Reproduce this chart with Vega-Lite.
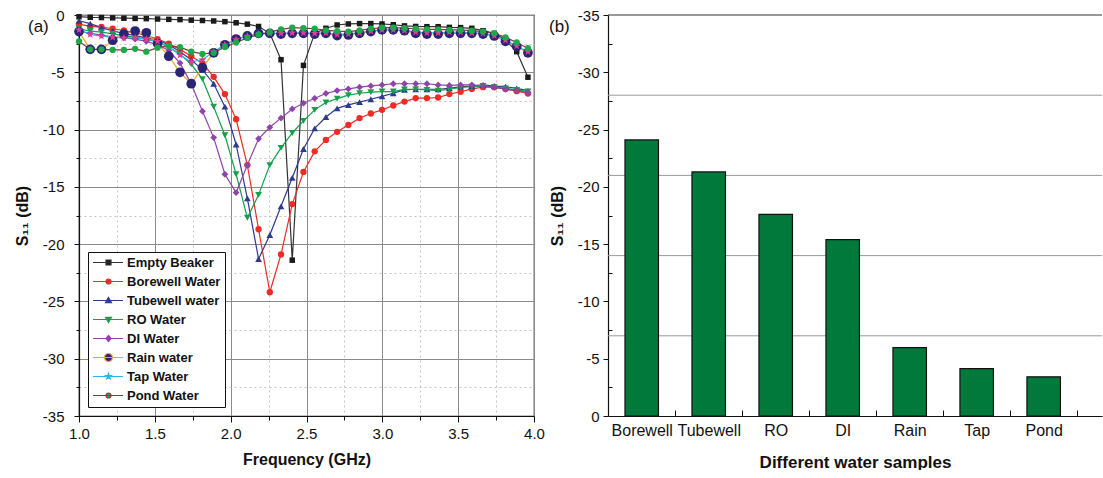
{
  "$schema": "https://vega.github.io/schema/vega-lite/v6.json",
  "background": "white",
  "padding": {"left": 13, "top": 7, "right": 0, "bottom": 0},
  "spacing": 3,
  "config": {
    "font": "Liberation Sans",
    "view": {"stroke": null},
    "axis": {
      "labelFont": "Liberation Sans", "titleFont": "Liberation Sans",
      "labelColor": "#111", "titleColor": "#111", "domainColor": "#111", "tickColor": "#111",
      "labelFontSize": 15, "titleFontSize": 16, "titleFontWeight": "bold", "domainWidth": 1.2, "labelOverlap": false, "labelFlush": false
    },
    "legend": {
      "orient": "bottom-left", "offset": 9, "strokeColor": "#111", "fillColor": "white", "padding": 4,
      "labelFont": "Liberation Sans", "labelFontSize": 13, "labelFontWeight": "bold", "labelColor": "#111",
      "symbolSize": 100, "symbolStrokeWidth": 1.2, "labelOffset": 22, "rowPadding": 5
    },
    "title": {"font": "Liberation Sans", "fontSize": 17, "fontWeight": "normal", "color": "#111"}
  },
  "datasets": {
    "curves": [
      {"f": 1.000, "Empty Beaker": -0.15, "Borewell Water": -0.8, "Tubewell water": -0.5, "RO Water": -1.2, "DI Water": -1.4, "Rain water": -1.45, "Tap Water": -1.3, "Pond Water": -2.3},
      {"f": 1.074, "Empty Beaker": -0.2, "Borewell Water": -1.0, "Tubewell water": -0.75, "RO Water": -1.4, "DI Water": -1.6, "Rain water": -3.0, "Tap Water": -1.7, "Pond Water": -3.0},
      {"f": 1.148, "Empty Beaker": -0.22, "Borewell Water": -1.05, "Tubewell water": -1.1, "RO Water": -1.5, "DI Water": -1.75, "Rain water": -3.0, "Tap Water": -1.85, "Pond Water": -3.0},
      {"f": 1.222, "Empty Beaker": -0.25, "Borewell Water": -1.2, "Tubewell water": -1.4, "RO Water": -1.65, "DI Water": -1.9, "Rain water": -2.2, "Tap Water": -1.95, "Pond Water": -3.05},
      {"f": 1.296, "Empty Beaker": -0.28, "Borewell Water": -1.35, "Tubewell water": -1.6, "RO Water": -1.8, "DI Water": -2.0, "Rain water": -1.66, "Tap Water": -2.0, "Pond Water": -3.05},
      {"f": 1.370, "Empty Beaker": -0.3, "Borewell Water": -1.55, "Tubewell water": -1.8, "RO Water": -1.95, "DI Water": -2.1, "Rain water": -1.4, "Tap Water": -2.0, "Pond Water": -2.95},
      {"f": 1.444, "Empty Beaker": -0.32, "Borewell Water": -1.8, "Tubewell water": -2.0, "RO Water": -2.1, "DI Water": -2.3, "Rain water": -1.55, "Tap Water": -2.1, "Pond Water": -3.2},
      {"f": 1.518, "Empty Beaker": -0.35, "Borewell Water": -2.1, "Tubewell water": -2.2, "RO Water": -2.35, "DI Water": -2.6, "Rain water": -2.5, "Tap Water": -2.3, "Pond Water": -2.85},
      {"f": 1.592, "Empty Beaker": -0.38, "Borewell Water": -2.5, "Tubewell water": -2.6, "RO Water": -2.8, "DI Water": -3.1, "Rain water": -3.6, "Tap Water": -2.8, "Pond Water": -2.7},
      {"f": 1.666, "Empty Beaker": -0.4, "Borewell Water": -3.0, "Tubewell water": -3.2, "RO Water": -3.4, "DI Water": -4.2, "Rain water": -5.0, "Tap Water": -3.5, "Pond Water": -2.8},
      {"f": 1.740, "Empty Beaker": -0.45, "Borewell Water": -3.6, "Tubewell water": -3.9, "RO Water": -4.3, "DI Water": -6.0, "Rain water": -6.0, "Tap Water": -4.1, "Pond Water": -3.2},
      {"f": 1.814, "Empty Beaker": -0.48, "Borewell Water": -4.2, "Tubewell water": -4.8, "RO Water": -5.6, "DI Water": -8.4, "Rain water": -4.6, "Tap Water": -3.9, "Pond Water": -3.4},
      {"f": 1.888, "Empty Beaker": -0.52, "Borewell Water": -5.4, "Tubewell water": -6.0, "RO Water": -8.0, "DI Water": -10.7, "Rain water": -3.3, "Tap Water": -3.2, "Pond Water": -3.3},
      {"f": 1.962, "Empty Beaker": -0.58, "Borewell Water": -6.9, "Tubewell water": -8.0, "RO Water": -10.5, "DI Water": -13.9, "Rain water": -2.6, "Tap Water": -2.6, "Pond Water": -2.8},
      {"f": 2.036, "Empty Beaker": -0.68, "Borewell Water": -9.1, "Tubewell water": -11.3, "RO Water": -13.9, "DI Water": -15.5, "Rain water": -2.1, "Tap Water": -2.15, "Pond Water": -2.4},
      {"f": 2.110, "Empty Beaker": -0.8, "Borewell Water": -13.1, "Tubewell water": -16.0, "RO Water": -17.7, "DI Water": -13.1, "Rain water": -1.83, "Tap Water": -1.85, "Pond Water": -2.0},
      {"f": 2.184, "Empty Beaker": -1.0, "Borewell Water": -18.7, "Tubewell water": -21.3, "RO Water": -15.7, "DI Water": -10.8, "Rain water": -1.6, "Tap Water": -1.7, "Pond Water": -1.7},
      {"f": 2.258, "Empty Beaker": -1.6, "Borewell Water": -24.2, "Tubewell water": -19.2, "RO Water": -13.1, "DI Water": -9.8, "Rain water": -1.6, "Tap Water": -1.6, "Pond Water": -1.5},
      {"f": 2.332, "Empty Beaker": -3.9, "Borewell Water": -20.9, "Tubewell water": -16.7, "RO Water": -11.6, "DI Water": -9.0, "Rain water": -1.66, "Tap Water": -1.6, "Pond Water": -1.25},
      {"f": 2.406, "Empty Beaker": -21.4, "Borewell Water": -16.5, "Tubewell water": -14.2, "RO Water": -10.3, "DI Water": -8.2, "Rain water": -1.6, "Tap Water": -1.55, "Pond Water": -1.1},
      {"f": 2.480, "Empty Beaker": -4.4, "Borewell Water": -13.7, "Tubewell water": -11.7, "RO Water": -9.24, "DI Water": -7.7, "Rain water": -1.6, "Tap Water": -1.55, "Pond Water": -1.15},
      {"f": 2.554, "Empty Beaker": -1.6, "Borewell Water": -11.9, "Tubewell water": -9.9, "RO Water": -8.28, "DI Water": -7.27, "Rain water": -1.66, "Tap Water": -1.6, "Pond Water": -1.2},
      {"f": 2.628, "Empty Beaker": -1.16, "Borewell Water": -10.9, "Tubewell water": -8.9, "RO Water": -7.64, "DI Water": -6.85, "Rain water": -1.6, "Tap Water": -1.55, "Pond Water": -1.35},
      {"f": 2.702, "Empty Beaker": -0.87, "Borewell Water": -10.2, "Tubewell water": -8.15, "RO Water": -7.3, "DI Water": -6.6, "Rain water": -1.8, "Tap Water": -1.7, "Pond Water": -1.4},
      {"f": 2.776, "Empty Beaker": -0.78, "Borewell Water": -9.6, "Tubewell water": -7.85, "RO Water": -7.0, "DI Water": -6.45, "Rain water": -1.74, "Tap Water": -1.65, "Pond Water": -1.45},
      {"f": 2.850, "Empty Beaker": -0.75, "Borewell Water": -9.0, "Tubewell water": -7.6, "RO Water": -6.83, "DI Water": -6.3, "Rain water": -1.6, "Tap Water": -1.55, "Pond Water": -1.35},
      {"f": 2.924, "Empty Beaker": -0.75, "Borewell Water": -8.6, "Tubewell water": -7.35, "RO Water": -6.74, "DI Water": -6.19, "Rain water": -1.45, "Tap Water": -1.4, "Pond Water": -1.2},
      {"f": 2.998, "Empty Beaker": -0.78, "Borewell Water": -8.28, "Tubewell water": -7.1, "RO Water": -6.68, "DI Water": -6.1, "Rain water": -1.3, "Tap Water": -1.3, "Pond Water": -1.1},
      {"f": 3.072, "Empty Beaker": -0.85, "Borewell Water": -7.9, "Tubewell water": -6.83, "RO Water": -6.68, "DI Water": -6.0, "Rain water": -1.3, "Tap Water": -1.3, "Pond Water": -1.1},
      {"f": 3.146, "Empty Beaker": -0.95, "Borewell Water": -7.56, "Tubewell water": -6.54, "RO Water": -6.5, "DI Water": -6.0, "Rain water": -1.37, "Tap Water": -1.35, "Pond Water": -1.15},
      {"f": 3.220, "Empty Beaker": -1.0, "Borewell Water": -7.25, "Tubewell water": -6.48, "RO Water": -6.48, "DI Water": -6.0, "Rain water": -1.6, "Tap Water": -1.5, "Pond Water": -1.2},
      {"f": 3.294, "Empty Beaker": -1.02, "Borewell Water": -7.25, "Tubewell water": -6.48, "RO Water": -6.54, "DI Water": -6.0, "Rain water": -1.66, "Tap Water": -1.55, "Pond Water": -1.25},
      {"f": 3.368, "Empty Beaker": -1.02, "Borewell Water": -7.2, "Tubewell water": -6.48, "RO Water": -6.6, "DI Water": -6.1, "Rain water": -1.66, "Tap Water": -1.55, "Pond Water": -1.25},
      {"f": 3.442, "Empty Beaker": -1.08, "Borewell Water": -6.9, "Tubewell water": -6.4, "RO Water": -6.48, "DI Water": -6.15, "Rain water": -1.6, "Tap Water": -1.5, "Pond Water": -1.3},
      {"f": 3.516, "Empty Beaker": -1.1, "Borewell Water": -6.7, "Tubewell water": -6.25, "RO Water": -6.33, "DI Water": -6.1, "Rain water": -1.6, "Tap Water": -1.5, "Pond Water": -1.3},
      {"f": 3.590, "Empty Beaker": -1.16, "Borewell Water": -6.45, "Tubewell water": -6.2, "RO Water": -6.25, "DI Water": -6.1, "Rain water": -1.6, "Tap Water": -1.55, "Pond Water": -1.37},
      {"f": 3.664, "Empty Beaker": -1.37, "Borewell Water": -6.3, "Tubewell water": -6.1, "RO Water": -6.2, "DI Water": -6.19, "Rain water": -1.66, "Tap Water": -1.6, "Pond Water": -1.45},
      {"f": 3.738, "Empty Beaker": -1.6, "Borewell Water": -6.3, "Tubewell water": -6.2, "RO Water": -6.3, "DI Water": -6.3, "Rain water": -1.83, "Tap Water": -1.8, "Pond Water": -1.6},
      {"f": 3.812, "Empty Beaker": -2.18, "Borewell Water": -6.45, "Tubewell water": -6.25, "RO Water": -6.4, "DI Water": -6.48, "Rain water": -2.3, "Tap Water": -2.2, "Pond Water": -1.95},
      {"f": 3.886, "Empty Beaker": -3.2, "Borewell Water": -6.65, "Tubewell water": -6.4, "RO Water": -6.54, "DI Water": -6.6, "Rain water": -2.76, "Tap Water": -2.7, "Pond Water": -2.4},
      {"f": 3.960, "Empty Beaker": -5.43, "Borewell Water": -6.85, "Tubewell water": -6.6, "RO Water": -6.68, "DI Water": -6.77, "Rain water": -3.3, "Tap Water": -3.2, "Pond Water": -2.9}
    ],
    "bars": [
      {"sample": "Borewell", "s11": -24.1},
      {"sample": "Tubewell", "s11": -21.3},
      {"sample": "RO", "s11": -17.6},
      {"sample": "DI", "s11": -15.4},
      {"sample": "Rain", "s11": -5.97},
      {"sample": "Tap", "s11": -4.14},
      {"sample": "Pond", "s11": -3.42}
    ],
    "grid": [{"g": -7}, {"g": -14}, {"g": -21}, {"g": -28}, {"g": -35}]
  },
  "hconcat": [
    {
      "width": 455,
      "height": 401,
      "view": {"stroke": "#111", "strokeWidth": 1.2},
      "title": {"text": "(a)", "anchor": "start", "frame": "group", "dx": -51, "offset": -28},
      "data": {"name": "curves"},
      "transform": [{"fold": ["Empty Beaker", "Borewell Water", "Tubewell water", "RO Water", "DI Water", "Rain water", "Tap Water", "Pond Water"], "as": ["series", "s11"]}],
      "encoding": {
        "x": {
          "field": "f", "type": "quantitative",
          "scale": {"domain": [1, 4], "nice": false, "zero": false},
          "axis": {
            "title": "Frequency (GHz)",
            "values": [1, 1.25, 1.5, 1.75, 2, 2.25, 2.5, 2.75, 3, 3.25, 3.5, 3.75, 4],
            "labelExpr": "datum.value % 0.5 === 0 ? format(datum.value, '.1f') : ''",
            "grid": true,
            "gridColor": {"condition": {"test": "datum.value % 0.5 === 0", "value": "#8a8a8a"}, "value": "#c4c4c4"},
            "gridDash": {"condition": {"test": "datum.value % 0.5 === 0", "value": []}, "value": [2, 3]},
            "gridWidth": 1,
            "tickSize": {"condition": {"test": "datum.value % 0.5 === 0", "value": 6}, "value": 4},
            "labelPadding": 4,
            "titlePadding": 10
          }
        },
        "y": {
          "field": "s11", "type": "quantitative",
          "scale": {"domain": [-35, 0], "nice": false, "zero": false},
          "axis": {
            "title": "S₁₁ (dB)",
            "values": [-35, -32.5, -30, -27.5, -25, -22.5, -20, -17.5, -15, -12.5, -10, -7.5, -5, -2.5, 0],
            "labelExpr": "datum.value % 5 === 0 ? (datum.value < 0 ? '-' + abs(datum.value) : '0') : ''",
            "grid": true,
            "gridColor": {"condition": {"test": "datum.value % 5 === 0", "value": "#8a8a8a"}, "value": "#c4c4c4"},
            "gridDash": {"condition": {"test": "datum.value % 5 === 0", "value": []}, "value": [2, 3]},
            "gridWidth": 1,
            "tickSize": {"condition": {"test": "datum.value % 5 === 0", "value": 5}, "value": 3},
            "labelPadding": 10,
            "titlePadding": 12
          }
        }
      },
      "layer": [
        {
          "mark": {"type": "line", "strokeWidth": 1.2},
          "encoding": {
            "stroke": {
              "field": "series", "type": "nominal",
              "scale": {
                "domain": ["Empty Beaker", "Borewell Water", "Tubewell water", "RO Water", "DI Water", "Rain water", "Tap Water", "Pond Water"],
                "range": ["#333333", "#ee2b24", "#2e3a8c", "#12a04b", "#8e44a8", "#f5a623", "#29b6e8", "#8b3a3a"]
              },
              "legend": {"title": null}
            }
          }
        },
        {"transform": [{"filter": "datum.series === 'Empty Beaker'"}], "mark": {"type": "point", "shape": "square", "filled": true, "fill": "#1a1a1a", "strokeWidth": 0, "size": 30, "opacity": 1}},
        {"transform": [{"filter": "datum.series === 'Borewell Water'"}], "mark": {"type": "point", "shape": "circle", "filled": true, "fill": "#ee2b24", "strokeWidth": 0, "size": 40, "opacity": 1}},
        {"transform": [{"filter": "datum.series === 'Tubewell water'"}], "mark": {"type": "point", "shape": "triangle-up", "filled": true, "fill": "#2e3a8c", "strokeWidth": 0, "size": 46, "opacity": 1}},
        {"transform": [{"filter": "datum.series === 'RO Water'"}], "mark": {"type": "point", "shape": "triangle-down", "filled": true, "fill": "#12a04b", "strokeWidth": 0, "size": 46, "opacity": 1}},
        {"transform": [{"filter": "datum.series === 'DI Water'"}], "mark": {"type": "point", "shape": "diamond", "filled": true, "fill": "#8e44a8", "strokeWidth": 0, "size": 46, "opacity": 1}},
        {"transform": [{"filter": "datum.series === 'Rain water'"}], "mark": {"type": "point", "shape": "circle", "filled": true, "fill": "#2b2475", "strokeWidth": 0, "size": 95, "opacity": 1}},
        {"transform": [{"filter": "datum.series === 'Tap Water'"}], "mark": {"type": "point", "shape": "M0,-1L0.235,-0.324L0.951,-0.309L0.38,0.124L0.588,0.809L0,0.4L-0.588,0.809L-0.38,0.124L-0.951,-0.309L-0.235,-0.324Z", "filled": true, "fill": "#e8389a", "strokeWidth": 0, "size": 70, "opacity": 1}},
        {"transform": [{"filter": "datum.series === 'Pond Water'"}], "mark": {"type": "point", "shape": "circle", "filled": true, "fill": "#1fa84a", "strokeWidth": 0, "size": 40, "opacity": 1}},
        {
          "transform": [{"filter": "datum.f < 0"}],
          "mark": {"type": "point", "filled": true, "opacity": 1},
          "encoding": {
            "stroke": {
              "field": "series", "type": "nominal",
              "scale": {
                "domain": ["Empty Beaker", "Borewell Water", "Tubewell water", "RO Water", "DI Water", "Rain water", "Tap Water", "Pond Water"],
                "range": ["#333333", "#ee2b24", "#2e3a8c", "#12a04b", "#8e44a8", "#f5a623", "#29b6e8", "#8b3a3a"]
              },
              "legend": {"title": null}
            },
            "fill": {
              "field": "series", "type": "nominal",
              "scale": {
                "domain": ["Empty Beaker", "Borewell Water", "Tubewell water", "RO Water", "DI Water", "Rain water", "Tap Water", "Pond Water"],
                "range": ["#1a1a1a", "#ee2b24", "#2e3a8c", "#12a04b", "#8e44a8", "#2b2475", "#e8389a", "#1fa84a"]
              },
              "legend": {"title": null}
            },
            "shape": {
              "field": "series", "type": "nominal",
              "scale": {
                "domain": ["Empty Beaker", "Borewell Water", "Tubewell water", "RO Water", "DI Water", "Rain water", "Tap Water", "Pond Water"],
                "range": [
                  "M-1.1,0H4.9M1.5,-0.5H2.5V0.5H1.5Z",
                  "M-1.1,0H4.9M1.5,0A0.5,0.5 0 1,0 2.5,0A0.5,0.5 0 1,0 1.5,0Z",
                  "M-1.1,0H4.9M2,-0.6L2.6,0.45H1.4Z",
                  "M-1.1,0H4.9M2,0.6L2.6,-0.45H1.4Z",
                  "M-1.1,0H4.9M2,-0.6L2.5,0L2,0.6L1.5,0Z",
                  "M-1.1,0H4.9M1.2,0A0.8,0.8 0 1,0 2.8,0A0.8,0.8 0 1,0 1.2,0Z",
                  "M-1.1,0H4.9M2,-0.6L2.147,-0.202L2.571,-0.185L2.238,0.077L2.353,0.485L2,0.25L1.647,0.485L1.762,0.077L1.429,-0.185L1.853,-0.202Z",
                  "M-1.1,0H4.9M1.5,0A0.5,0.5 0 1,0 2.5,0A0.5,0.5 0 1,0 1.5,0Z"
                ]
              },
              "legend": {"title": null}
            }
          }
        }
      ]
    },
    {
      "width": 494,
      "height": 401,
      "view": {"stroke": null},
      "title": {"text": "(b)", "anchor": "start", "frame": "group", "dx": -59, "offset": -28},
      "layer": [
        {
          "data": {"name": "grid"},
          "mark": {"type": "rule", "strokeWidth": 1},
          "encoding": {
            "y": {
              "field": "g", "type": "quantitative",
              "scale": {"domain": [-35, 0], "nice": false, "zero": false, "reverse": true},
              "axis": {
                "title": "S₁₁ (dB)",
                "values": [-35, -32.5, -30, -27.5, -25, -22.5, -20, -17.5, -15, -12.5, -10, -7.5, -5, -2.5, 0],
                "labelExpr": "datum.value % 5 === 0 ? (datum.value < 0 ? '-' + abs(datum.value) : '0') : ''",
                "grid": false,
                "tickSize": {"condition": {"test": "datum.value % 5 === 0", "value": 5}, "value": -4},
                "labelPadding": 4,
                "titlePadding": 12
              }
            },
            "color": {"condition": {"test": "datum.g == -35", "value": "#333333"}, "value": "#9a9a9a"}
          }
        },
        {
          "data": {"name": "bars"},
          "mark": {"type": "bar", "fill": "#00793a", "stroke": "#111", "strokeWidth": 1.2},
          "encoding": {
            "x": {
              "field": "sample", "type": "nominal", "sort": null,
              "scale": {"paddingInner": 0.5, "paddingOuter": 0.437, "align": 0.29},
              "axis": {
                "title": "Different water samples",
                "titleFontSize": 17,
                "labelFontSize": 16,
                "labelAngle": 0,
                "tickSize": -6,
                "tickOffset": 33.5,
                "labelOffset": -33.5,
                "labelPadding": 12,
                "titlePadding": 16
              }
            },
            "y": {
              "field": "s11", "type": "quantitative",
              "scale": {"domain": [-35, 0], "nice": false, "zero": false, "reverse": true},
              "axis": {
                "title": "S₁₁ (dB)",
                "values": [-35, -32.5, -30, -27.5, -25, -22.5, -20, -17.5, -15, -12.5, -10, -7.5, -5, -2.5, 0],
                "labelExpr": "datum.value % 5 === 0 ? (datum.value < 0 ? '-' + abs(datum.value) : '0') : ''",
                "grid": false,
                "tickSize": {"condition": {"test": "datum.value % 5 === 0", "value": 5}, "value": -4},
                "labelPadding": 4,
                "titlePadding": 12
              }
            }
          }
        }
      ]
    }
  ]
}
